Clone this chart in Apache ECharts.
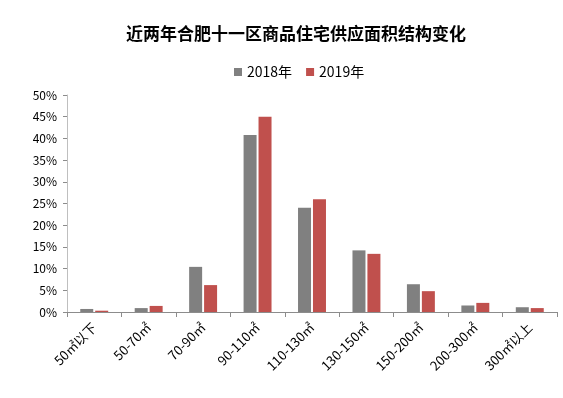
<!DOCTYPE html>
<html lang="zh">
<head>
    <meta charset="UTF-8">
    <title>近两年合肥十一区商品住宅供应面积结构变化</title>
    <style>
        html, body { margin: 0; padding: 0; background: #fff; }
        #container { width: 563px; height: 398px; }
    </style>
</head>
<body>
    <div id="container"></div>
    <script src="https://cdn.jsdelivr.net/npm/echarts@6/dist/echarts.min.js"></script>
    <script>
        var categories = ['50㎡以下', '50-70㎡', '70-90㎡', '90-110㎡', '110-130㎡', '130-150㎡', '150-200㎡', '200-300㎡', '300㎡以上'];
        var values2018 = [0.7, 0.9, 10.4, 40.8, 24.0, 14.2, 6.4, 1.5, 1.1];
        var values2019 = [0.3, 1.4, 6.2, 45.0, 26.0, 13.4, 4.8, 2.1, 0.9];
        var yTicks = [0, 5, 10, 15, 20, 25, 30, 35, 40, 45, 50];

        var font = '"Noto Sans CJK SC", "Noto Sans", sans-serif';
        var ec = echarts.init(document.querySelector('#container'));

        var option = {
            backgroundColor: '#fff',
            animation: false,
            title: {
                text: '近两年合肥十一区商品住宅供应面积结构变化',
                left: 295,
                textAlign: 'center',
                top: 20,
                textStyle: { fontFamily: font, fontSize: 17, fontWeight: 'bold', color: '#000' }
            },
            legend: {
                data: ['2018年', '2019年'],
                left: 229,
                top: 60,
                itemWidth: 8,
                itemHeight: 8,
                itemGap: 14,
                icon: 'rect',
                textStyle: { fontFamily: font, fontSize: 14, color: '#000' }
            },
            grid: { left: 67, right: 6, top: 95, bottom: 86 },
            xAxis: {
                type: 'category',
                data: categories,
                axisLine: { lineStyle: { color: '#8c8c8c' } },
                axisTick: { show: true, length: 5, lineStyle: { color: '#8c8c8c' } },
                axisLabel: { rotate: 45, fontFamily: font, fontSize: 13, color: '#000', margin: 13 }
            },
            yAxis: {
                type: 'value',
                min: yTicks[0],
                max: yTicks[yTicks.length - 1],
                interval: 5,
                splitLine: { show: false },
                axisLine: { show: true, lineStyle: { color: '#bfbfbf' } },
                axisTick: { show: true, length: 4, lineStyle: { color: '#8c8c8c' } },
                axisLabel: {
                    fontFamily: font, fontSize: 12, color: '#000', margin: 10,
                    formatter: function (v) { return v + '%'; }
                }
            },
            series: [{
                name: '2018年',
                type: 'bar',
                data: values2018,
                barWidth: 13,
                barGap: '15%',
                itemStyle: { color: '#808080' }
            }, {
                name: '2019年',
                type: 'bar',
                data: values2019,
                barWidth: 13,
                barGap: '15%',
                itemStyle: { color: '#c0504d' }
            }]
        };
        option.title.left = 291;
        ec.setOption(option);
    </script>
</body>
</html>
